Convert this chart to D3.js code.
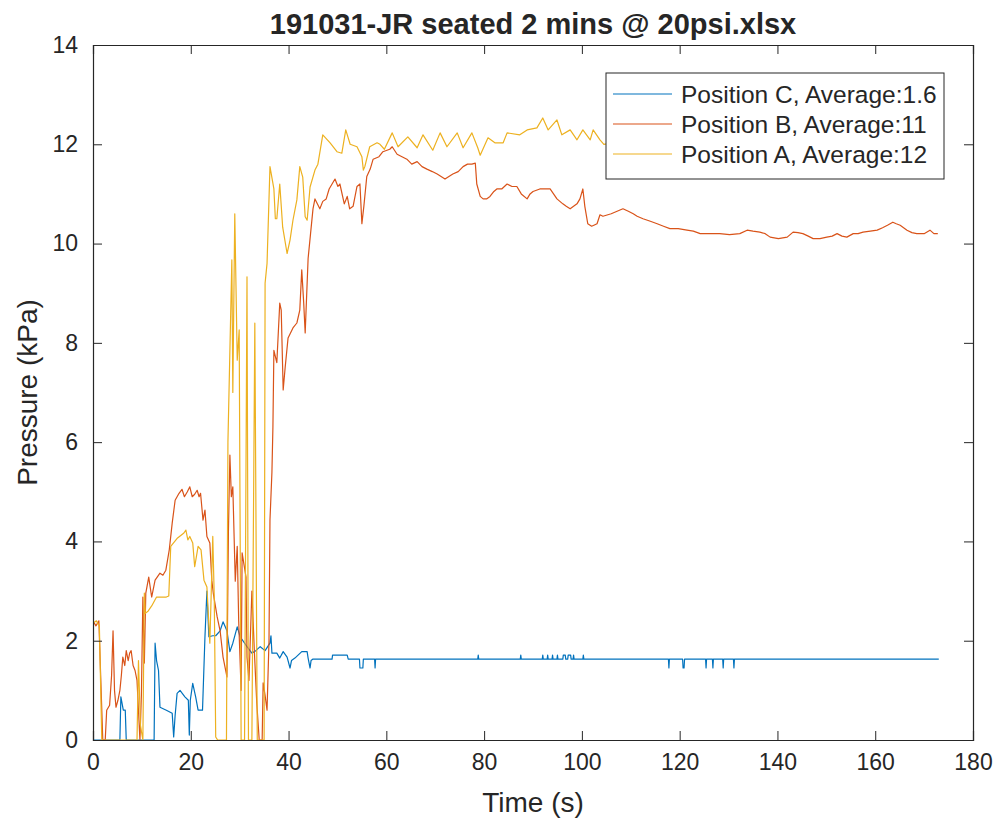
<!DOCTYPE html>
<html>
<head>
<meta charset="utf-8">
<script src="https://cdn.jsdelivr.net/npm/d3@7"></script>
<style>
  html, body { margin: 0; padding: 0; background: #fff; }
  svg { display: block; }
  text { font-family: "Liberation Sans", Arial, Helvetica, sans-serif; fill: #262626; }
</style>
</head>
<body>
<svg id="chart" width="1000" height="828"></svg>
<script>
// ---------- DATA ----------
const chartTitle = "191031-JR seated 2 mins @ 20psi.xlsx";
const xLabel = "Time (s)";
const yLabel = "Pressure (kPa)";
const xTicks = [0, 20, 40, 60, 80, 100, 120, 140, 160, 180];
const yTicks = [0, 2, 4, 6, 8, 10, 12, 14];
const seriesNames = ["Position C, Average:1.6", "Position B, Average:11", "Position A, Average:12"];
const seriesColors = ["#0072BD", "#D95319", "#EDB120"];

// Position C  [time (s), pressure (kPa)]
const positionC = [
  [0,0],[5.5,0],[5.7,0.87],[6.2,0.6],[6.6,0.6],[6.8,0],[12.5,0],[12.7,1.95],[13.0,1.6],[13.4,1.4],
  [13.7,0.66],[15.0,0.6],[16.2,0.54],[16.5,0.06],[16.8,0.5],[17.2,0.94],[17.8,1.0],[18.8,0.87],
  [19.5,0.8],[19.7,0.1],[19.9,0.8],[20.4,1.14],[21.0,0.87],[21.5,0.6],[22.4,0.6],[22.9,2.08],
  [23.3,3.0],[23.7,2.08],[24.5,2.1],[25.1,2.1],[26.0,2.2],[26.6,2.38],[27.4,2.2],[28.0,1.78],
  [28.6,1.95],[29.5,2.28],[30.1,2.08],[31.5,1.88],[32.5,1.75],[33.3,1.8],[34.2,1.88],[35.2,1.8],
  [36.2,1.95],[36.4,2.1],[36.6,1.75],[37.6,1.75],[38.2,1.65],[38.9,1.78],[39.7,1.67],[40.3,1.45],
  [40.6,1.6],[41.3,1.65],[42.7,1.78],[43.8,1.78],[44.0,1.65],[44.4,1.45],[44.6,1.6],[45.0,1.63],
  [48.9,1.63],[49.0,1.71],[52.0,1.71],[52.2,1.63],[54.5,1.63],[54.6,1.45],[55.2,1.45],[55.3,1.63],
  [57.6,1.63],[57.7,1.45],[57.8,1.63],
  [78.7,1.63],[78.8,1.71],[78.9,1.63],[87.4,1.63],[87.5,1.71],[87.6,1.63],
  [91.9,1.63],[92.0,1.71],[92.1,1.63],[92.9,1.63],[93.0,1.71],[93.1,1.63],
  [93.9,1.63],[94.0,1.71],[94.1,1.63],[94.9,1.63],[95.0,1.71],[95.1,1.63],
  [96.1,1.63],[96.2,1.71],[96.6,1.71],[96.7,1.63],[97.1,1.63],[97.2,1.71],[97.7,1.71],[97.8,1.63],
  [98.2,1.63],[98.3,1.71],[98.4,1.63],[100.2,1.63],[100.3,1.71],[100.4,1.63],
  [117.7,1.63],[117.8,1.45],[117.9,1.63],[120.6,1.63],[120.7,1.45],[120.9,1.45],[121.0,1.63],
  [125.3,1.63],[125.4,1.45],[125.5,1.63],[126.7,1.63],[126.8,1.45],[126.9,1.63],
  [128.8,1.63],[128.9,1.45],[129.0,1.63],[131.0,1.63],[131.1,1.45],[131.2,1.63],
  [173,1.63]
];

// Position B  [time (s), pressure (kPa)]
const positionB = [
  [0,2.4],[0.6,2.3],[1.2,2.4],[1.6,1.2],[2.0,0],[2.5,0],[2.8,0.6],[3.4,0.7],[3.8,1.3],[4.1,2.2],
  [4.4,1.0],[4.7,0.66],[5.1,0.8],[5.5,1.0],[5.8,1.3],[6.1,1.67],[6.5,1.5],[6.8,1.8],[7.2,1.6],
  [7.5,1.75],[7.8,1.8],[8.2,1.5],[8.6,1.4],[9.0,1.2],[9.3,0.6],[9.6,0],[9.9,0.9],[10.2,2.88],
  [10.5,1.55],[10.8,2.96],[11.4,3.28],[12.0,2.88],[12.7,3.22],[13.7,3.36],[14.3,3.32],[14.9,3.42],
  [15.6,3.83],[16.2,4.37],[16.8,4.83],[17.6,4.97],[18.2,5.05],[18.7,4.9],[19.3,5.0],[19.8,5.1],
  [20.3,4.9],[20.8,4.95],[21.3,5.03],[21.7,4.9],[22.0,4.97],[22.5,4.43],[22.9,4.63],[23.3,4.1],
  [23.9,3.97],[24.3,3.22],[24.6,2.96],[25.4,2.48],[26.0,2.2],[26.6,1.67],[27.4,1.27],[27.7,4.2],
  [28.0,5.74],[28.3,4.9],[28.6,5.1],[29.1,3.2],[29.5,3.9],[29.8,2.4],[30.3,1.0],[30.5,3.77],
  [31.3,3.28],[31.5,1.67],[31.9,1.2],[32.5,3.0],[33.0,1.8],[33.5,0.74],[34.0,0],[34.6,0],
  [34.8,1.15],[35.2,0.9],[35.6,0.6],[36.0,2.0],[36.2,4.43],[36.6,5.4],[36.8,6.3],[37.0,7.85],
  [37.6,7.6],[38.2,8.8],[38.5,8.66],[38.9,7.05],[39.3,7.5],[39.9,8.1],[40.9,8.3],[41.7,8.4],
  [42.3,8.66],[42.7,9.47],[43.1,8.8],[43.4,8.2],[44.0,9.7],[44.5,10.2],[45.0,10.7],[45.4,10.9],
  [46.4,10.7],[47.0,10.85],[47.7,10.9],[48.3,11.1],[49.5,11.3],[50.1,11.15],[50.5,11.2],[51.4,10.8],
  [52.0,10.95],[52.5,10.7],[53.2,10.75],[53.5,10.9],[54.0,11.15],[54.6,11.2],[55.0,10.4],[55.4,10.75],
  [56.0,11.35],[56.7,11.5],[57.3,11.7],[58.5,11.75],[59.3,11.85],[60.7,11.9],[61.2,11.95],[62.2,11.8],
  [63.2,11.75],[64.2,11.7],[65.2,11.6],[66.3,11.65],[67.3,11.55],[68.3,11.5],[69.4,11.45],[70.4,11.4],
  [71.2,11.35],[72.0,11.3],[72.8,11.35],[73.6,11.4],[74.7,11.45],[75.7,11.55],[76.6,11.6],[77.5,11.6],
  [78.2,11.62],[78.5,11.2],[79.2,10.95],[79.8,10.9],[80.5,10.9],[81.2,10.95],[82.0,11.05],[82.6,11.1],
  [83.6,11.1],[84.7,11.2],[85.7,11.15],[86.7,11.15],[87.6,11.0],[88.8,10.9],[89.4,11.0],[90.0,11.05],
  [91.4,11.1],[92.5,11.1],[93.5,11.1],[94.2,11.0],[94.9,10.9],[95.5,10.85],[96.1,10.8],[96.8,10.75],
  [97.6,10.7],[98.3,10.75],[99.0,10.8],[99.6,10.9],[100.2,11.1],[100.6,10.75],[101.2,10.4],[102.0,10.35],
  [103.1,10.4],[103.7,10.58],[104.3,10.55],[106.0,10.6],[108.4,10.7],[109.5,10.65],[110.5,10.6],
  [111.3,10.55],[112.5,10.5],[114.0,10.45],[115.4,10.4],[116.7,10.35],[118.0,10.3],[119.7,10.3],
  [121.5,10.27],[122.8,10.25],[124.2,10.2],[126.2,10.2],[128.2,10.2],[130.2,10.18],[132.3,10.2],
  [133.8,10.27],[135.0,10.25],[136.4,10.23],[137.5,10.2],[138.5,10.13],[140.2,10.1],[142.0,10.13],
  [143.2,10.23],[144.2,10.22],[145.2,10.2],[146.3,10.15],[147.3,10.1],[148.7,10.1],[150.1,10.13],
  [151.2,10.15],[152.2,10.2],[153.2,10.15],[154.2,10.13],[155.5,10.2],[156.5,10.2],[157.5,10.23],
  [159.0,10.25],[160.4,10.27],[161.5,10.32],[162.5,10.37],[163.6,10.43],[164.3,10.4],[165.1,10.37],
  [166.5,10.27],[167.5,10.22],[168.5,10.2],[170.0,10.2],[171.2,10.27],[172.0,10.2],[172.8,10.2]
];

// Position A  [time (s), pressure (kPa)]
const positionA = [
  [0,2.35],[0.7,2.4],[1.3,2.3],[1.8,0],[9.0,0],[9.3,1.6],[9.7,0.3],[10.2,0],[10.5,2.96],[10.7,2.55],
  [11.3,2.6],[12.0,2.7],[13.0,2.88],[14.0,2.88],[15.0,2.88],[15.5,2.9],[15.9,3.9],[17.3,4.07],
  [18.6,4.17],[19.0,4.23],[19.4,4.03],[19.8,4.1],[20.4,3.97],[20.8,3.49],[21.5,3.9],[22.1,3.83],
  [22.7,3.22],[23.3,3.08],[23.9,1.95],[24.5,4.1],[24.8,2.88],[25.1,0.06],[25.5,0],[27.3,0],
  [27.6,6.0],[28.4,9.67],[28.6,7.0],[29.0,10.6],[29.5,7.65],[29.9,8.26],[30.3,0],[31.0,0],
  [31.5,9.33],[31.8,0],[32.5,0],[33.1,8.4],[33.6,0],[35.0,0],[35.2,9.2],[35.6,9.6],[36.2,11.55],
  [37.0,11.1],[37.3,10.5],[37.6,10.5],[38.2,11.2],[38.8,10.33],[39.7,9.8],[40.3,10.07],[40.9,10.47],
  [41.7,10.88],[42.3,11.55],[42.9,11.34],[43.4,10.54],[43.8,10.47],[44.4,11.14],[45.4,11.48],
  [46.0,11.6],[47.0,12.19],[48.5,12.03],[49.9,11.85],[50.9,11.82],[51.7,12.29],[52.6,12.0],
  [54.0,11.95],[55.0,11.75],[55.3,11.48],[55.6,11.55],[56.6,11.95],[58.1,12.03],[58.7,12.0],
  [59.6,11.9],[61.2,12.23],[62.4,11.95],[64.4,12.15],[66.3,11.93],[67.5,12.19],[69.5,11.88],
  [71.0,12.23],[72.4,11.95],[74.5,12.23],[75.7,11.93],[77.5,12.23],[78.7,11.93],[79.2,11.78],
  [80.8,12.13],[82.2,12.03],[83.9,12.03],[84.7,12.23],[87.3,12.19],[88.8,12.29],[90.8,12.33],
  [92.0,12.53],[93.1,12.29],[94.9,12.49],[95.9,12.19],[97.6,12.29],[99.0,12.09],[100.2,12.29],
  [101.7,12.09],[102.3,12.29],[103.7,12.09],[104.5,12.0],[110,12.1],[120,12.0],[130,12.1],
  [140,11.9],[150,12.0],[160,12.0],[173,12.0]
];

// ---------- CHART ----------
const svg = d3.select("#chart");
const L = 93, R = 973, T = 45, B = 740;
const x = d3.scaleLinear().domain([0, 180]).range([L, R]);
const y = d3.scaleLinear().domain([0, 14]).range([B, T]);
const axisColor = "#262626";
const fs = 23;

const line = d3.line().x(d => x(d[0])).y(d => y(d[1]));

// clip
svg.append("defs").append("clipPath").attr("id", "plotclip")
  .append("rect").attr("x", L).attr("y", T).attr("width", R - L).attr("height", B - T);

const plot = svg.append("g").attr("clip-path", "url(#plotclip)");
[positionC, positionB, positionA].forEach((s, i) => {
  plot.append("path").datum(s)
    .attr("fill", "none")
    .attr("stroke", seriesColors[i])
    .attr("stroke-width", 1.2)
    .attr("stroke-linejoin", "round")
    .attr("d", line);
});

// axes (ticks inward)
const tickLen = 9;
const gx = svg.append("g").attr("transform", `translate(0,${B})`)
  .call(d3.axisBottom(x).tickValues(xTicks).tickSize(-tickLen).tickPadding(tickLen + 8).tickFormat(d3.format("d")));
const gxt = svg.append("g").attr("transform", `translate(0,${T})`)
  .call(d3.axisTop(x).tickValues(xTicks).tickSize(-tickLen).tickFormat(""));
const gy = svg.append("g").attr("transform", `translate(${L},0)`)
  .call(d3.axisLeft(y).tickValues(yTicks).tickSize(-tickLen).tickPadding(tickLen + 6).tickFormat(d3.format("d")));
const gyr = svg.append("g").attr("transform", `translate(${R},0)`)
  .call(d3.axisRight(y).tickValues(yTicks).tickSize(-tickLen).tickFormat(""));

[gx, gxt, gy, gyr].forEach(g => {
  g.select(".domain").attr("stroke", axisColor).attr("stroke-width", 1.2);
  g.selectAll(".tick line").attr("stroke", axisColor).attr("stroke-width", 1);
  g.selectAll(".tick text").style("font-size", fs + "px").attr("fill", axisColor)
    .style("font-family", '"Liberation Sans", Arial, sans-serif');
});
gx.selectAll(".tick text").attr("dy", "0.55em");

// title and labels
svg.append("text").attr("x", (L + R) / 2).attr("y", 34).attr("text-anchor", "middle")
  .style("font-size", "29px").style("font-weight", "bold").attr("fill", "#000").text(chartTitle);
svg.append("text").attr("x", (L + R) / 2).attr("y", 812).attr("text-anchor", "middle")
  .style("font-size", "28px").text(xLabel);
svg.append("text").attr("transform", `translate(37,${(T + B) / 2}) rotate(-90)`)
  .attr("text-anchor", "middle").style("font-size", "28px").text(yLabel);

// legend
const lg = svg.append("g");
lg.append("rect").attr("x", 606).attr("y", 73).attr("width", 338).attr("height", 106)
  .attr("fill", "#fff").attr("stroke", axisColor).attr("stroke-width", 1);
seriesNames.forEach((n, i) => {
  const yy = 94 + i * 30;
  lg.append("line").attr("x1", 613).attr("x2", 672).attr("y1", yy).attr("y2", yy)
    .attr("stroke", seriesColors[i]).attr("stroke-width", 1.2);
  lg.append("text").attr("x", 681).attr("y", yy).attr("dy", "0.36em")
    .style("font-size", "24.5px").text(n);
});
</script>
</body>
</html>
